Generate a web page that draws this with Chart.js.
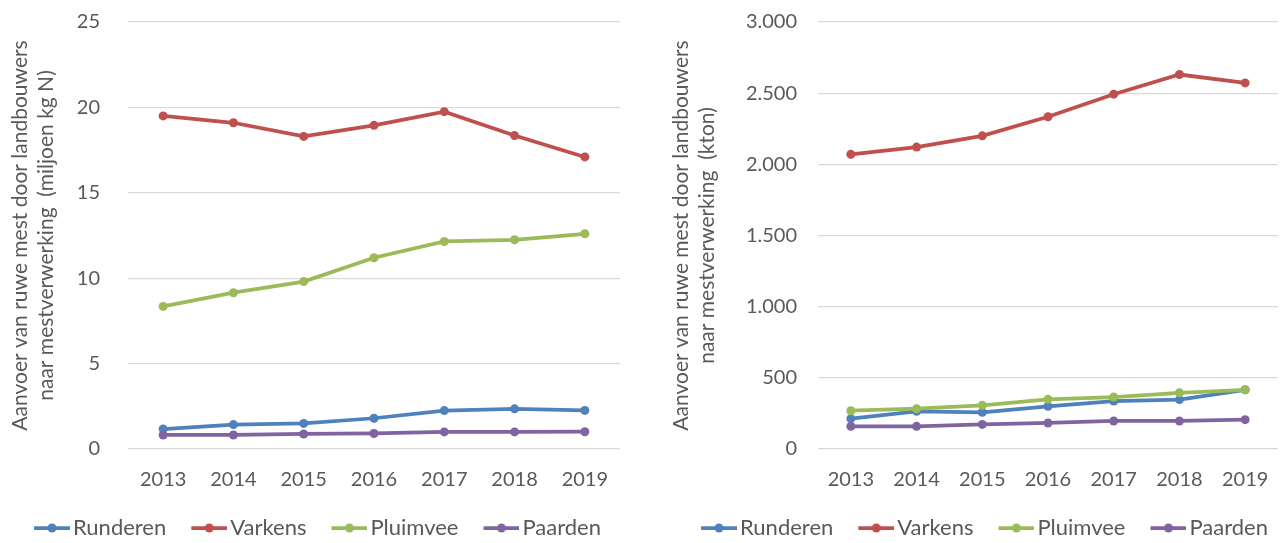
<!DOCTYPE html>
<html lang="nl">
<head>
<meta charset="UTF-8">
<title>Aanvoer van ruwe mest naar mestverwerking</title>
<script src="https://cdn.jsdelivr.net/npm/chart.js"></script>
<style>
  html, body { margin: 0; padding: 0; background: #fff; }
  .wrap { width: 1283px; height: 543px; position: relative; }
  .panel { position: absolute; top: 0; height: 543px; }
  #left { left: 0; width: 640px; }
  #right { left: 640px; width: 643px; }
</style>
</head>
<body>
<div class="wrap">
  <div class="panel" id="left"><canvas id="nChart" width="640" height="543"></canvas></div>
  <div class="panel" id="right"><canvas id="ktonChart" width="643" height="543"></canvas></div>
</div>
<script>
// jaren
const years = ['2013', '2014', '2015', '2016', '2017', '2018', '2019'];
const seriesNames = ['Runderen', 'Varkens', 'Pluimvee', 'Paarden'];

// links: miljoen kg N
const rundN    = [1.17, 1.43, 1.50, 1.80, 2.25, 2.35, 2.26];
const varkN    = [19.5, 19.1, 18.3, 18.95, 19.75, 18.35, 17.1];
const pluimN   = [8.35, 9.15, 9.8, 11.2, 12.15, 12.25, 12.6];
const paardN   = [0.82, 0.82, 0.88, 0.91, 1.0, 1.0, 1.01];

// rechts: kton
const rundKton  = [213, 265, 258, 300, 337, 347, 416];
const varkKton  = [2070, 2121, 2200, 2334, 2493, 2631, 2572];
const pluimKton = [269, 283, 307, 349, 365, 395, 416];
const paardKton = [159, 159, 173, 183, 197, 197, 206];

const colors = ['#4F81BD', '#C0504D', '#9BBB59', '#8064A2'];
const textColor = '#595959';
const fontFamily = 'Lato, "Open Sans", sans-serif';

// legend marker: line with a dot (like Excel), drawn in the right 36px of a wider image
const MARK_BOX = 43;
function legendMarker(color) {
    const c = document.createElement('canvas');
    c.width = MARK_BOX + 16; c.height = 12;
    const g = c.getContext('2d');
    const x0 = c.width - 36;
    g.strokeStyle = color;
    g.lineWidth = 3.75;
    g.beginPath();
    g.moveTo(x0, 6); g.lineTo(c.width, 6);
    g.stroke();
    g.fillStyle = color;
    g.beginPath();
    g.arc(x0 + 18, 6, 4.5, 0, Math.PI * 2);
    g.fill();
    return c;
}
const markers = colors.map(legendMarker);

function nlNumber(v) {
    return String(v).replace(/\B(?=(\d{3})+(?!\d))/g, '.');
}

function makeChart(id, data, yMax, yStep, title, cfg) {
    const datasets = data.map((d, i) => ({
        label: seriesNames[i],
        data: d,
        borderColor: colors[i],
        backgroundColor: colors[i],
        borderWidth: 3.75,
        pointRadius: 4.5,
        pointHoverRadius: 4.5,
        pointBorderWidth: 0,
        tension: 0,
        order: 4 - i
    }));
    return new Chart(document.getElementById(id), {
        type: 'line',
        data: { labels: years, datasets: datasets },
        options: {
            responsive: false,
            animation: false,
            layout: { padding: { top: 22, right: cfg.padRight, bottom: -6, left: 0 } },
            plugins: {
                tooltip: { enabled: false },
                legend: {
                    position: 'bottom',
                    align: cfg.legendAlign,
                    labels: {
                        usePointStyle: true,
                        pointStyleWidth: MARK_BOX,
                        padding: 10,
                        color: textColor,
                        font: { family: fontFamily, size: 22 },
                        sort: (a, b) => a.datasetIndex - b.datasetIndex,
                        generateLabels: chart => {
                            const items = Chart.defaults.plugins.legend.labels.generateLabels(chart);
                            items.forEach(it => { it.pointStyle = markers[it.datasetIndex]; });
                            return items;
                        }
                    }
                }
            },
            scales: {
                x: {
                    offset: true,
                    grid: { display: false },
                    border: { display: false },
                    ticks: { color: textColor, font: { family: fontFamily, size: 20 }, padding: 11, maxRotation: 0 },
                    afterFit: s => { s.height = 58; }
                },
                y: {
                    min: 0,
                    max: yMax,
                    ticks: {
                        stepSize: yStep,
                        color: textColor,
                        font: { family: fontFamily, size: 20 },
                        padding: cfg.tickPad,
                        callback: v => nlNumber(v)
                    },
                    grid: { color: '#D9D9D9', lineWidth: 1.3, drawTicks: false },
                    border: { display: false },
                    title: {
                        display: true,
                        text: title,
                        color: textColor,
                        font: { family: fontFamily, size: 21, lineHeight: 1.25 },
                        padding: { top: cfg.titleShift, bottom: 6 }
                    },
                    afterFit: s => {
                        s.width = cfg.yWidth;
                        // tick padding should not push the plot down
                        s.paddingTop = 0;
                        s.paddingBottom = 0;
                    }
                }
            }
        }
    });
}

makeChart('nChart', [rundN, varkN, pluimN, paardN], 25, 5,
    ['Aanvoer van ruwe mest door landbouwers', 'naar mestverwerking  (miljoen kg N)'],
    { titleShift: 7, yWidth: 128, padRight: 20, tickPad: 28, legendAlign: 'center' });

makeChart('ktonChart', [rundKton, varkKton, pluimKton, paardKton], 3000, 500,
    ['Aanvoer van ruwe mest door landbouwers', 'naar mestverwerking  (kton)'],
    { titleShift: 28, yWidth: 178, padRight: 5, tickPad: 21, legendAlign: 'end' });
</script>
</body>
</html>
